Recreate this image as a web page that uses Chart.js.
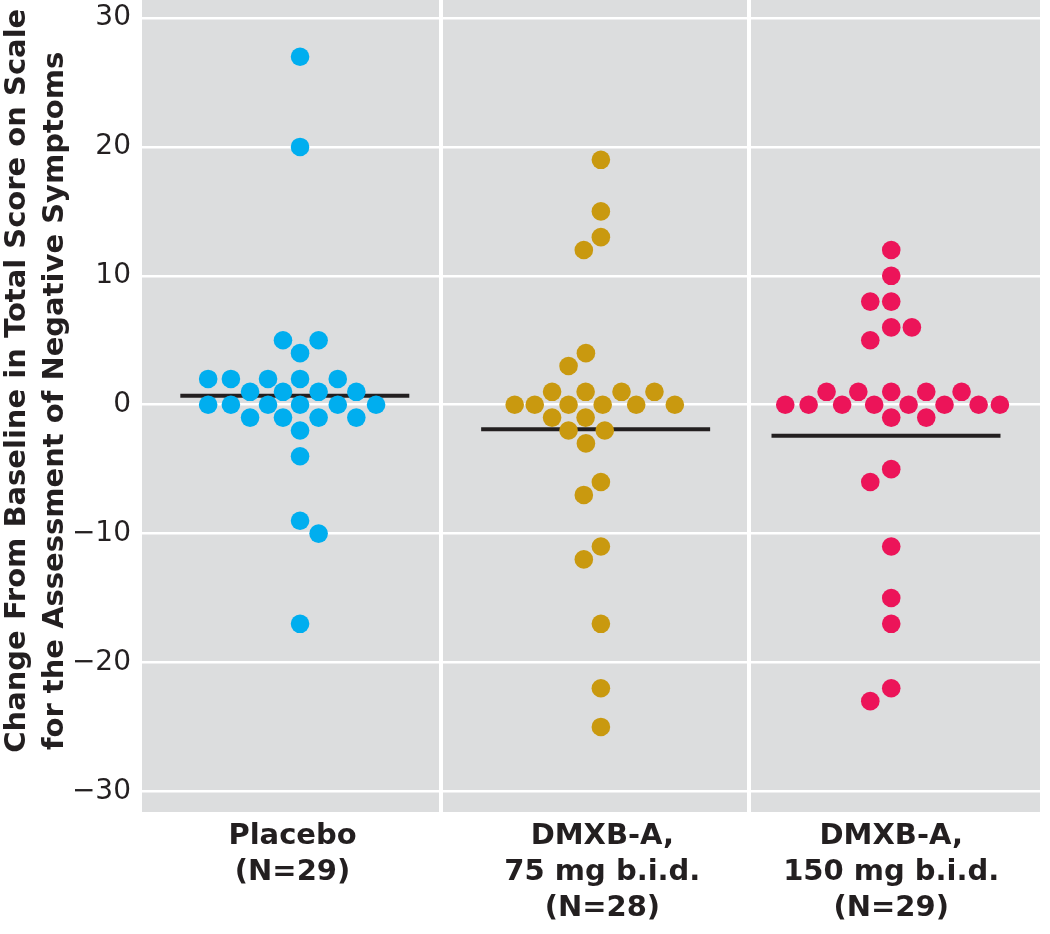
<!DOCTYPE html>
<html>
<head>
<meta charset="utf-8">
<script src="https://cdn.jsdelivr.net/npm/chart.js@4.4.0/dist/chart.umd.min.js"></script>
<style>
  body { margin: 0; background: #fff; }
  canvas { display: block; }
</style>
</head>
<body>
<canvas id="myChart" width="1050" height="934"></canvas>
<script>
// groups on the x axis
const groupLabels = [
    ['Placebo', '(N=29)'],
    ['DMXB-A,', '75 mg b.i.d.', '(N=28)'],
    ['DMXB-A,', '150 mg b.i.d.', '(N=29)']
];
const groupCenters = [0, 1.005, 1.975];
const labelCenters = [-0.025, 1.01, 1.975];
const dividers = [0.47, 1.5];
const yTicks = [-30, -20, -10, 0, 10, 20, 30];

// change scores, and the sideways spread of each dot in the swarm
const placeboValues = [27, 20, 5, 5, 4, 2, 2, 2, 2, 2, 1, 1, 1, 1, 0, 0, 0, 0, 0, 0, -1, -1, -1, -1, -2, -4, -9, -10, -17];
const placeboSpread = [0, 0, -0.057, 0.062, 0, -0.307, -0.231, -0.107, 0, 0.126, -0.167, -0.057, 0.062, 0.188, -0.307, -0.231, -0.107, 0, 0.126, 0.254, -0.167, -0.057, 0.062, 0.188, 0, 0, 0, 0.062, 0];

const dose75Values = [19, 15, 13, 12, 4, 3, 1, 1, 1, 1, 0, 0, 0, 0, 0, 0, -1, -1, -2, -2, -3, -6, -7, -11, -12, -17, -22, -25];
const dose75Spread = [0, 0, 0, -0.057, -0.05, -0.108, -0.163, -0.051, 0.069, 0.179, -0.288, -0.221, -0.108, 0.006, 0.118, 0.247, -0.163, -0.051, -0.108, 0.013, -0.05, 0, -0.057, 0, -0.057, 0, 0, 0];

const dose150Values = [12, 10, 8, 8, 6, 6, 5, 1, 1, 1, 1, 1, 0, 0, 0, 0, 0, 0, 0, 0, -1, -1, -5, -6, -11, -15, -17, -22, -23];
const dose150Spread = [0, 0, -0.07, 0, 0, 0.069, -0.07, -0.216, -0.11, 0, 0.117, 0.235, -0.354, -0.276, -0.164, -0.057, 0.058, 0.178, 0.292, 0.363, 0, 0.117, 0, -0.07, 0, 0, 0, 0, -0.07];

const groupMeans = [0.7, -1.9, -2.4];

const colors = ['#00aeef', '#c9990f', '#ec1459'];
const textFont = "'DejaVu Sans', sans-serif";

const allValues = [placeboValues, dose75Values, dose150Values];
const allSpread = [placeboSpread, dose75Spread, dose150Spread];

const datasets = [];
for (let g = 0; g < 3; g++) {
    const points = [];
    for (let i = 0; i < allValues[g].length; i++) {
        points.push({ x: groupCenters[g] + allSpread[g][i], y: allValues[g][i] });
    }
    datasets.push({
        type: 'scatter',
        data: points,
        backgroundColor: colors[g],
        borderWidth: 0,
        pointRadius: 9.3,
        order: 0
    });
    datasets.push({
        type: 'line',
        data: [
            { x: groupCenters[g] - 0.4, y: groupMeans[g] },
            { x: groupCenters[g] + 0.365, y: groupMeans[g] }
        ],
        borderColor: '#231f20',
        borderWidth: 4,
        pointRadius: 0,
        borderCapStyle: 'butt',
        order: 1
    });
}

const plotBackground = {
    id: 'plotBackground',
    beforeDraw(chart) {
        const { ctx, chartArea } = chart;
        ctx.save();
        ctx.fillStyle = '#dcddde';
        ctx.fillRect(chartArea.left, chartArea.top, chartArea.width, chartArea.height);
        ctx.restore();
    }
};

var ctx = document.getElementById('myChart').getContext('2d');

var myChart = new Chart(ctx, { // eslint-disable-line
    data: { datasets: datasets },
    plugins: [plotBackground],
    options: {
        responsive: false,
        animation: false,
        events: [],
        layout: { autoPadding: false, padding: { top: 0, right: 10, bottom: 0, left: 0 } },
        plugins: {
            legend: { display: false },
            tooltip: { enabled: false }
        },
        scales: {
            x: {
                type: 'linear',
                position: 'bottom',
                min: -0.528,
                max: 2.472,
                afterBuildTicks(scale) {
                    scale.ticks = dividers.map(v => ({ value: v }));
                },
                afterFit(scale) {
                    scale.height = 0;
                    scale.paddingLeft = 0;
                    scale.paddingRight = 0;
                },
                grid: { color: '#ffffff', lineWidth: 4, drawTicks: false },
                border: { display: false },
                ticks: { display: false }
            },
            x2: {
                type: 'linear',
                position: 'bottom',
                min: -0.528,
                max: 2.472,
                afterBuildTicks(scale) {
                    scale.ticks = labelCenters.map(v => ({ value: v }));
                },
                afterFit(scale) {
                    scale.height = 122;
                    scale.paddingLeft = 0;
                    scale.paddingRight = 0;
                },
                grid: { display: false, drawTicks: false },
                border: { display: false },
                ticks: {
                    padding: 7,
                    maxRotation: 0,
                    autoSkip: false,
                    color: '#231f20',
                    font: { family: textFont, size: 29, weight: 'bold', lineHeight: 1.23 },
                    callback: (value, index) => groupLabels[index]
                }
            },
            y: {
                type: 'linear',
                min: -31.6,
                max: 31.4,
                afterBuildTicks(scale) {
                    scale.ticks = yTicks.map(v => ({ value: v }));
                },
                afterFit(scale) {
                    scale.width = 142;
                    scale.paddingTop = 0;
                    scale.paddingBottom = 0;
                },
                grid: { color: '#ffffff', lineWidth: 2.5, drawTicks: false },
                border: { display: false },
                ticks: {
                    padding: 11,
                    color: '#231f20',
                    font: { family: textFont, size: 28 },
                    callback: v => (v < 0 ? '\u2212' + Math.abs(v) : String(v))
                },
                title: {
                    display: true,
                    // leading spaces nudge each line up a little, as in the original
                    text: ['     Change From Baseline in Total Score on Scale', ' for the Assessment of Negative Symptoms'],
                    color: '#231f20',
                    padding: { top: -2, bottom: 0 },
                    font: { family: textFont, size: 29, weight: 'bold', lineHeight: 1.33 }
                }
            }
        }
    }
});
</script>
</body>
</html>
